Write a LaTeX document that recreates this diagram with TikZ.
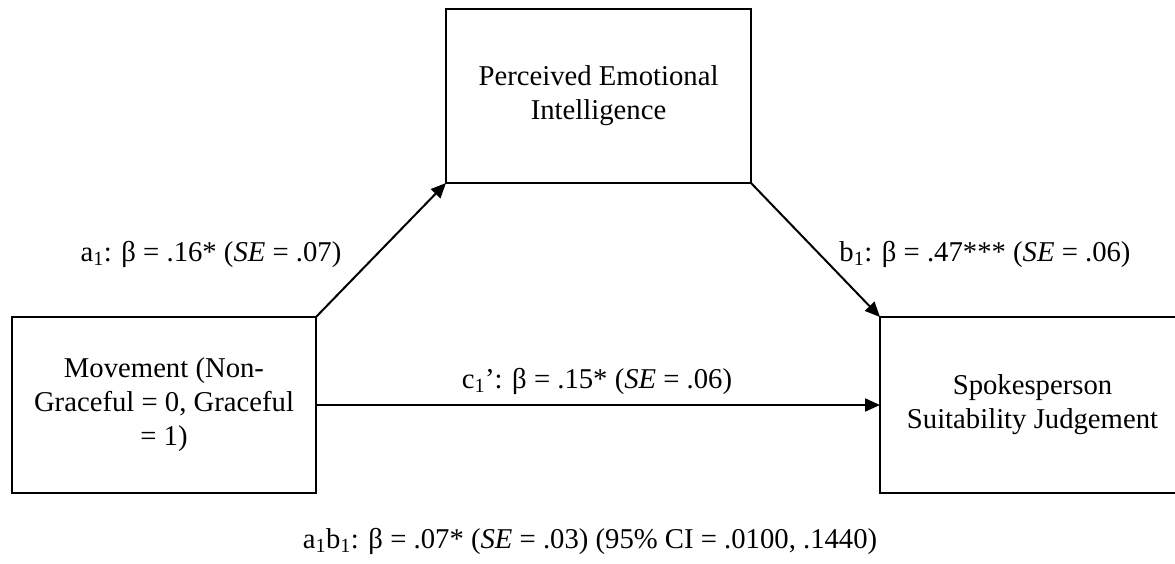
\documentclass[tikz,border=0pt]{standalone}
\usepackage{fontspec}
\setmainfont{Liberation Serif}
\usetikzlibrary{arrows.meta}
\begin{document}
\begin{tikzpicture}[x=1pt,y=-1pt,
  every node/.style={font=\fontsize{28.7}{34}\selectfont},
  varbox/.style={draw, line width=2pt, inner sep=0pt, outer sep=0pt, align=center},
  path/.style={line width=2pt, -{Triangle[length=15pt,width=13pt]}},
  lbl/.style={inner sep=0pt}]
\useasboundingbox (0,0) rectangle (1175,563);
\clip (0,0) rectangle (1175,563);
\node[varbox, minimum width=304pt, minimum height=176pt] (X) at (164,405)
  {Movement (Non-\\Graceful = 0, Graceful\\= 1)};
\node[varbox, minimum width=305pt, minimum height=174pt] (M) at (598.5,96)
  {Perceived Emotional\\Intelligence};
\node[varbox, minimum width=305pt, minimum height=176pt] (Y) at (1032.5,405)
  {Spokesperson\\Suitability Judgement};
\draw[path] (X.north east) -- (M.south west);
\draw[path] (M.south east) -- (Y.north west);
\draw[path] (X.east) -- (Y.west);
\node[lbl] (la) at (211,254) {a\textsubscript{1}: β = .16* (\textit{SE} = .07)};
\node[lbl] (lb) at (985,254) {b\textsubscript{1}: β = .47*** (\textit{SE} = .06)};
\node[lbl] (lc) at (597,381) {c\textsubscript{1}’: β = .15* (\textit{SE} = .06)};
\node[lbl] (lab) at (590,541) {a\textsubscript{1}b\textsubscript{1}: β = .07* (\textit{SE} = .03) (95\% CI = .0100, .1440)};
\end{tikzpicture}
\end{document}
